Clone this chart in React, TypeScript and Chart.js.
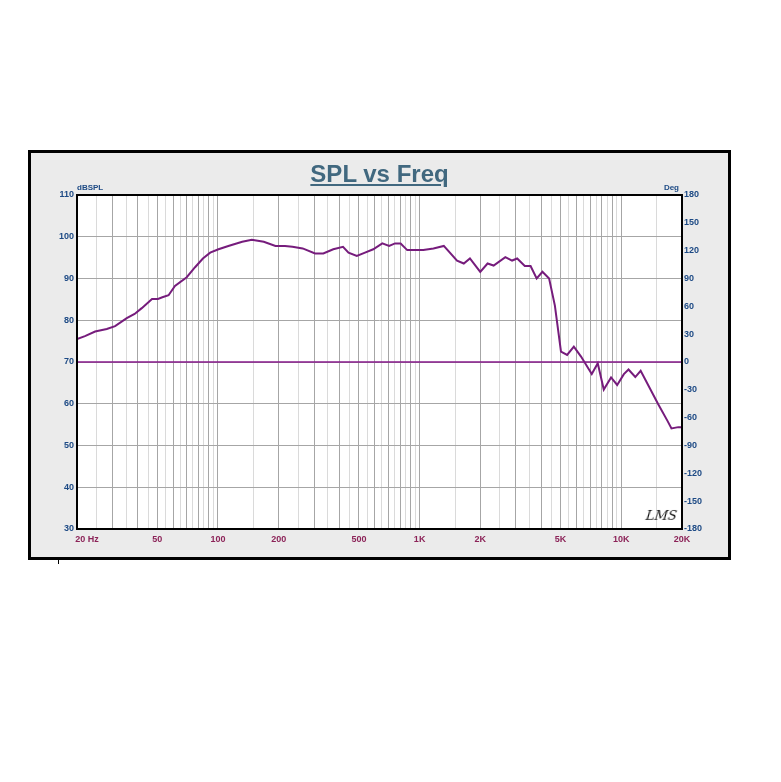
import React, { useEffect, useRef } from 'react';
import { Chart, registerables } from 'chart.js';

Chart.register(...registerables);

// Frequency points (Hz)
const freqHz = [
  20, 21.9, 24.6, 28.1, 30.9, 35.3, 38.6, 41.9, 47.1, 50.4, 53, 56.9, 61.2, 70, 77, 84.2, 91.5,
  100.6, 112.6, 131.9, 147.2, 168.7, 192.8, 215, 234, 263, 303, 333, 373, 417, 444, 488, 536,
  589, 653, 706, 755, 805, 868, 948, 1043, 1171, 1318, 1533, 1656, 1776, 1998, 2172, 2328,
  2661, 2873, 3047, 3323, 3550, 3805, 4065, 4386, 4685, 5023, 5387, 5817, 6315, 7138, 7643,
  8187, 8897, 9541, 10298, 10860, 11733, 12475, 15199, 16945, 17732, 19178, 20000,
];
// SPL values (dB)
const splDb = [
  75.5, 76.2, 77.3, 77.9, 78.6, 80.5, 81.5, 82.9, 85.1, 85.1, 85.5, 86.0, 88.2, 90.3, 92.7, 94.8, 96.2,
  97.0, 97.8, 98.8, 99.3, 98.8, 97.8, 97.8, 97.6, 97.2, 96.0, 96.0, 97.0, 97.6, 96.2, 95.4, 96.2,
  97.0, 98.4, 97.8, 98.4, 98.4, 96.8, 96.8, 96.8, 97.2, 97.8, 94.3, 93.6, 94.8, 91.6, 93.6, 93.1,
  95.1, 94.3, 94.8, 93.0, 93.0, 90.0, 91.6, 90.0, 83.5, 72.5, 71.7, 73.7, 71.3, 67.1, 69.7,
  63.4, 66.3, 64.5, 67.1, 68.2, 66.4, 67.9, 60.0, 55.9, 54.1, 54.4, 54.4,
];
// Phase trace (degrees) – flat at 0
const phaseFreqHz = [20, 20000];
const phaseDeg = [0, 0];

// Axis tick / label definitions
const xLabelValues = [20, 50, 100, 200, 500, 1000, 2000, 5000, 10000, 20000];
const xLabelTexts = ['        20 Hz', '50', '100', '200', '500', '1K', '2K', '5K', '10K', '20K'];
const xGridMultipliers = [1, 1.5, 2, 2.5, 3, 3.5, 4, 4.5, 5, 5.5, 6, 6.5, 7, 7.5, 8, 8.5, 9, 9.5];
const xDecades = [10, 100, 1000, 10000];
const yMin = 30, yMax = 110, yStep = 10;
const y2Min = -180, y2Max = 180, y2Step = 30;

const xGridValues: number[] = [];
xDecades.forEach((d) => xGridMultipliers.forEach((m) => {
  const v = Math.round(m * d);
  if (v >= 20 && v <= 20000 && xGridValues.indexOf(v) < 0) xGridValues.push(v);
}));

const isMajor = (v: number) => {
  const p = Math.pow(10, Math.floor(Math.log10(v) + 1e-9));
  const m = v / p;
  return Math.abs(m - Math.round(m)) < 0.01;
};

const tickFont = { family: 'Liberation Sans, Arial, sans-serif', size: 9, weight: 'bold' as const };

const framePlugin = {
  id: 'frame',
  beforeDraw(chart: any) {
    const { ctx, chartArea: a } = chart;
    ctx.save();
    ctx.fillStyle = '#ffffff';
    ctx.fillRect(a.left, a.top, a.right - a.left, a.bottom - a.top);
    ctx.restore();
  },
  afterDraw(chart: any) {
    const { ctx, chartArea: a } = chart;
    ctx.save();
    ctx.strokeStyle = '#000000';
    ctx.lineWidth = 2;
    ctx.strokeRect(a.left, a.top, a.right - a.left, a.bottom - a.top);
    ctx.fillStyle = '#1d4a85';
    ctx.font = 'bold 8px "Liberation Sans", Arial, sans-serif';
    ctx.textBaseline = 'alphabetic';
    ctx.textAlign = 'left';
    ctx.fillText('dBSPL', a.left, a.top - 5);
    ctx.textAlign = 'right';
    ctx.fillText('Deg', a.right - 3, a.top - 5);
    ctx.restore();
  },
};

export default function App() {
  const ref = useRef<HTMLCanvasElement | null>(null);

  useEffect(() => {
    if (!ref.current) return;
    const chart = new Chart(ref.current, {
      type: 'line',
      data: {
        datasets: [
          {
            label: 'Phase',
            data: phaseFreqHz.map((f, i) => ({ x: f, y: phaseDeg[i] })),
            yAxisID: 'y2',
            borderColor: '#86188a',
            borderWidth: 1.6,
            pointRadius: 0,
            tension: 0,
          },
          {
            label: 'SPL',
            data: freqHz.map((f, i) => ({ x: f, y: splDb[i] })),
            yAxisID: 'y',
            borderColor: '#761c7c',
            borderWidth: 2,
            pointRadius: 0,
            tension: 0,
          },
        ],
      },
      options: {
        responsive: false,
        animation: false,
        layout: { padding: { top: 42, left: 0, right: 0, bottom: 0 } },
        plugins: { legend: { display: false }, tooltip: { enabled: false }, title: { display: false } },
        scales: {
          x: {
            type: 'logarithmic',
            position: 'bottom',
            min: 20,
            max: 20000,
            afterFit: (s: any) => { s.height = 28; },
            afterBuildTicks: (s: any) => { s.ticks = xGridValues.map((v) => ({ value: v })); },
            ticks: {
              autoSkip: false,
              maxRotation: 0,
              minRotation: 0,
              padding: 5,
              color: '#8c2358',
              font: tickFont,
              callback: (v: any) => {
                const i = xLabelValues.indexOf(Number(v));
                return i >= 0 ? xLabelTexts[i] : '';
              },
            },
            grid: {
              drawTicks: false,
              lineWidth: 1,
              color: (c: any) => (c.tick && isMajor(c.tick.value) ? '#a6a6a6' : '#dadada'),
            },
            border: { display: false },
          },
          y: {
            position: 'left',
            min: yMin,
            max: yMax,
            afterFit: (s: any) => { s.width = 46; },
            ticks: { stepSize: yStep, padding: 3, color: '#1d4a85', font: tickFont },
            grid: { drawTicks: false, color: '#a6a6a6', lineWidth: 1 },
            border: { display: false },
          },
          y2: {
            position: 'right',
            min: y2Min,
            max: y2Max,
            afterFit: (s: any) => { s.width = 46; },
            ticks: { stepSize: y2Step, padding: 2, color: '#1d4a85', font: tickFont },
            grid: { drawOnChartArea: false, drawTicks: false },
            border: { display: false },
          },
        },
      },
      plugins: [framePlugin],
    });
    return () => chart.destroy();
  }, []);

  return (
    <div style={{ position: 'relative', width: 765, height: 760 }}>
      <div
        style={{
          position: 'absolute',
          left: 20,
          top: 142,
          width: 697,
          height: 404,
          border: '3px solid #000',
          background: '#ebebeb',
        }}
      >
        <canvas ref={ref} width={697} height={404} style={{ position: 'absolute', left: 0, top: 0, width: 697, height: 404 }} />
        <div
          style={{
            position: 'absolute',
            left: 0,
            top: 9,
            width: 697,
            textAlign: 'center',
            font: 'bold 24px "Liberation Sans", Arial, sans-serif',
            lineHeight: '24px',
            color: '#41687f',
            textDecoration: 'underline',
          }}
        >
          SPL vs Freq
        </div>
        <div
          style={{
            position: 'absolute',
            left: 615,
            top: 355,
            font: 'italic 13px "DejaVu Serif", serif',
            color: '#111',
            transform: 'skewX(-8deg)',
          }}
        >
          LMS
        </div>
      </div>
      <div style={{ position: 'absolute', left: 50, top: 552, width: 1, height: 4, background: '#000' }} />
    </div>
  );
}
